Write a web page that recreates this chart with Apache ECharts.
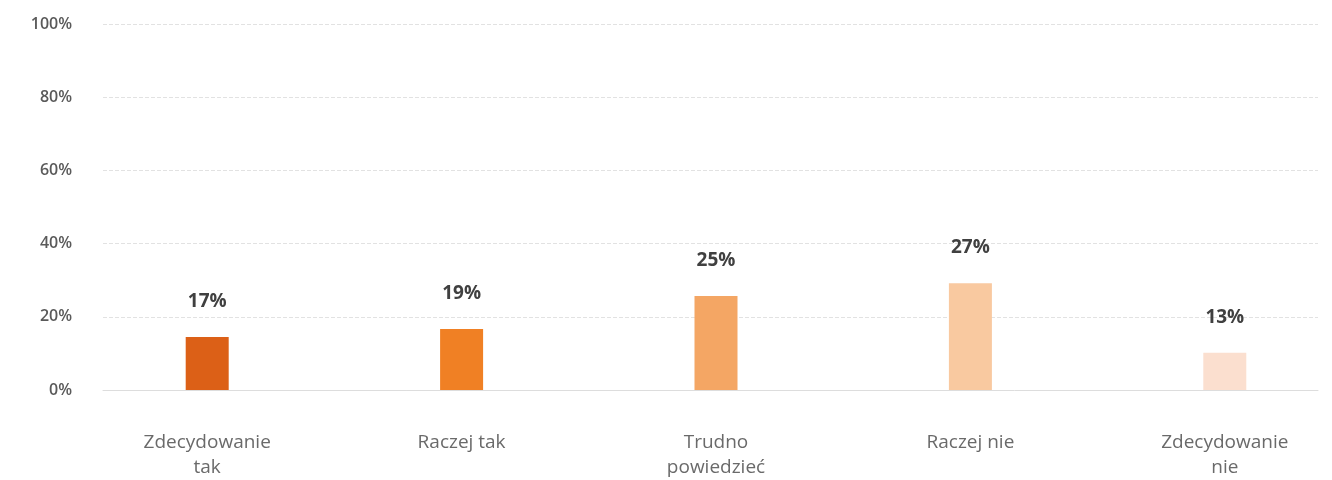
<!DOCTYPE html>
<html>
<head>
<meta charset="utf-8">
<script src="https://cdn.jsdelivr.net/npm/echarts@6/dist/echarts.min.js"></script>
<style>
  html, body { margin: 0; padding: 0; background: #fff; }
  #chart { width: 1332px; height: 480px; }
</style>
</head>
<body>
<div id="chart"></div>
<script>
const categories = ['Zdecydowanie\ntak', 'Raczej tak', 'Trudno\npowiedzieć', 'Raczej nie', 'Zdecydowanie\nnie']
const barValues = [14.5, 16.7, 25.7, 29.2, 10.2]
const barLabels = ['17%', '19%', '25%', '27%', '13%']
const barColors = ['#dc6017', '#f08024', '#f4a664', '#f9c9a0', '#fbdfcf']
const yTicks = [0, 20, 40, 60, 80, 100]

const fontFamily = '"Open Sans", Lato, sans-serif'

const chart = echarts.init(document.getElementById('chart'))

chart.setOption({
  animation: false,
  grid: [
    { left: 103, right: 14, top: 24, bottom: 90, outerBoundsMode: 'none' },
    // bars sit on a wider band than the gridlines
    { left: 80, width: 1272, top: 24, bottom: 90, outerBoundsMode: 'none' }
  ],
  xAxis: [
    {
      type: 'category',
      gridIndex: 0,
      data: categories,
      axisLine: { show: true, lineStyle: { color: '#dddddd', width: 1 } },
      axisTick: { show: false },
      axisLabel: { show: false }
    },
    {
      type: 'category',
      gridIndex: 1,
      data: categories,
      axisLine: { show: false },
      axisTick: { show: false },
      axisLabel: {
        margin: 40,
        color: '#6a6a6a',
        fontSize: 19,
        lineHeight: 25,
        fontFamily: fontFamily,
        interval: 0
      }
    }
  ],
  yAxis: [
    {
      type: 'value',
      gridIndex: 0,
      min: yTicks[0],
      max: yTicks[yTicks.length - 1],
      interval: 20,
      axisLine: { show: false },
      axisTick: { show: false },
      axisLabel: {
        formatter: '{value}%',
        margin: 31,
        color: '#5a5a5a',
        fontSize: 16,
        fontWeight: 600,
        fontFamily: fontFamily
      },
      splitLine: { lineStyle: { color: '#e2e2e2', type: 'dashed', width: 1 } }
    },
    {
      type: 'value',
      gridIndex: 1,
      min: 0,
      max: 100,
      show: false,
      splitLine: { show: false }
    }
  ],
  series: [
    {
      type: 'bar',
      xAxisIndex: 1,
      yAxisIndex: 1,
      barWidth: 43,
      data: barValues.map((v, i) => ({ value: v, itemStyle: { color: barColors[i] } })),
      label: {
        show: true,
        position: 'top',
        distance: 26,
        formatter: (p) => barLabels[p.dataIndex],
        color: '#404040',
        fontSize: 19,
        fontWeight: 'bold',
        fontFamily: fontFamily
      }
    }
  ]
})
</script>
</body>
</html>
